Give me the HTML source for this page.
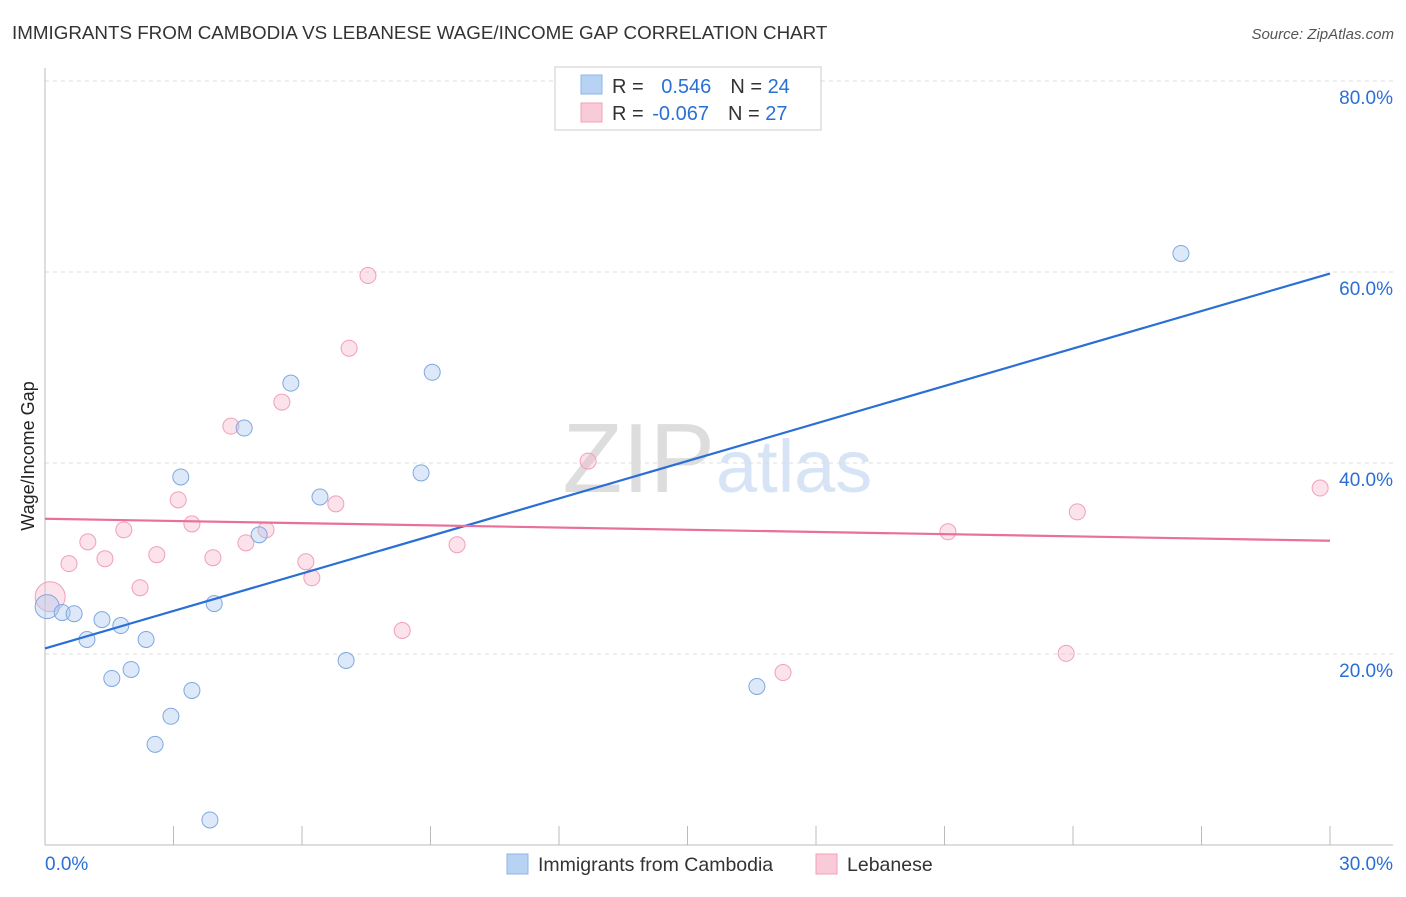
<!DOCTYPE html>
<html><head><meta charset="utf-8"><style>
body{margin:0;background:#fff;font-family:"Liberation Sans",sans-serif}
svg text{font-family:"Liberation Sans",sans-serif}
</style></head><body>
<svg id="chart" width="1406" height="892">
<text x="12" y="39" font-size="18.8" fill="#333">IMMIGRANTS FROM CAMBODIA VS LEBANESE WAGE/INCOME GAP CORRELATION CHART</text>
<text x="1394" y="39" font-size="15" fill="#555" font-style="italic" text-anchor="end">Source: ZipAtlas.com</text>
<text x="715" y="492" font-size="98" fill="#ddd" text-anchor="end" font-family="Liberation Serif">ZIP</text>
<text x="716" y="492" font-size="74" fill="#d6e4f5">atlas</text>
<g id="grid"></g><g id="axes"></g><g id="marks"></g>
<text transform="translate(34,456) rotate(-90)" font-size="18" fill="#222" text-anchor="middle">Wage/Income Gap</text>
<g>
<rect x="555" y="67" width="266" height="63" fill="#fff" stroke="#ccc"/>
<rect x="581" y="75" width="21" height="19" fill="#b8d2f3" stroke="#8fb5e8"/>
<rect x="581" y="103" width="21" height="19" fill="#f9cbd8" stroke="#f0a0b8"/>
<text x="612" y="93" font-size="20" fill="#333">R = <tspan fill="#2a6fd6" dx="12">0.546</tspan><tspan dx="19" fill="#333">N = </tspan><tspan fill="#2a6fd6">24</tspan></text>
<text x="612" y="120" font-size="20" fill="#333">R = <tspan fill="#2a6fd6" dx="3">-0.067</tspan><tspan dx="19" fill="#333">N = </tspan><tspan fill="#2a6fd6">27</tspan></text>
</g>
<g>
<rect x="507" y="854" width="21" height="20" fill="#b8d2f3" stroke="#8fb5e8"/>
<text x="538" y="871" font-size="19.5" fill="#333">Immigrants from Cambodia</text>
<rect x="816" y="854" width="21" height="20" fill="#f9cbd8" stroke="#f0a0b8"/>
<text x="847" y="871" font-size="19.5" fill="#333">Lebanese</text>
</g>
</svg>
<script>
const xTicks=[0,30];
const yTicks=[20,40,60,80];
const blueX=[0.05,0.40,0.68,0.98,1.33,1.56,1.77,2.01,2.36,2.57,2.94,3.17,3.43,3.85,3.95,4.65,5.00,5.74,6.42,7.03,8.78,9.04,16.62,26.52];
const blueY=[24.96,24.34,24.22,21.52,23.60,17.44,22.98,18.38,21.52,10.54,13.48,38.54,16.18,2.62,25.28,43.66,32.48,48.36,36.44,19.32,38.96,49.50,16.60,61.94];
const pinkX=[0.12,0.56,1.00,1.40,1.84,2.22,2.61,3.11,3.43,3.92,4.34,4.69,5.16,5.53,6.09,6.23,6.79,7.10,7.54,8.34,9.62,12.68,17.23,21.08,23.84,24.10,29.77];
const pinkY=[26.00,29.46,31.74,29.98,33.00,26.94,30.40,36.14,33.62,30.08,43.86,31.64,33.00,46.38,29.66,27.98,35.72,52.02,59.64,22.46,31.44,40.20,18.06,32.80,20.06,34.88,37.38];
const blueLine=[20.58,59.84];
const pinkLine=[34.16,31.86];
const NS="http://www.w3.org/2000/svg";
const X=v=>45+v*(1285/30), Y=v=>845-v*9.55;
function mk(t,a,p){const e=document.createElementNS(NS,t);for(const k in a)e.setAttribute(k,a[k]);document.getElementById(p).appendChild(e);return e;}
yTicks.forEach(t=>{
 const l=mk('line',{x1:45,x2:1393,y1:Y(t),y2:Y(t),stroke:'#ddd','stroke-dasharray':'4,4'},'grid');
 
 
 const tx=mk('text',{x:1393,y:Y(t)+23,'font-size':19,fill:'#2a6fd6','text-anchor':'end'},'axes');
 tx.textContent=t.toFixed(1)+'%';
 
 
});
let ax=mk('line',{x1:45,x2:1393,y1:845,y2:845,stroke:'#bbb'},'axes');


let ay=mk('line',{x1:45,x2:45,y1:68,y2:845,stroke:'#bbb'},'axes');


for(let i=1;i<=10;i++){const tk=mk('line',{x1:X(i*3),x2:X(i*3),y1:826,y2:845,stroke:'#bbb'},'axes');
 
 }
xTicks.forEach((t,i)=>{const tx=mk('text',{x:i?1393:45,y:870,'font-size':19,fill:'#2a6fd6','text-anchor':i?'end':'start'},'axes');
 tx.textContent=t.toFixed(1)+'%';
 
 });
pinkX.forEach((x,i)=>{const c=mk('circle',{cx:X(x),cy:Y(pinkY[i]),r:i==0?15:8,fill:'rgba(245,175,198,0.35)',stroke:'#f0a0b8','stroke-width':1},'marks');
 
 });
blueX.forEach((x,i)=>{const c=mk('circle',{cx:X(x),cy:Y(blueY[i]),r:i==0?12:8,fill:'rgba(170,200,240,0.4)',stroke:'#7fa8e0','stroke-width':1},'marks');
 
 });
const bl=mk('line',{x1:X(0),x2:X(30),y1:Y(blueLine[0]),y2:Y(blueLine[1]),stroke:'#2a6fd6','stroke-width':2.2},'marks');


const pl=mk('line',{x1:X(0),x2:X(30),y1:Y(pinkLine[0]),y2:Y(pinkLine[1]),stroke:'#e8709a','stroke-width':2.2},'marks');


</script>
</body></html>
